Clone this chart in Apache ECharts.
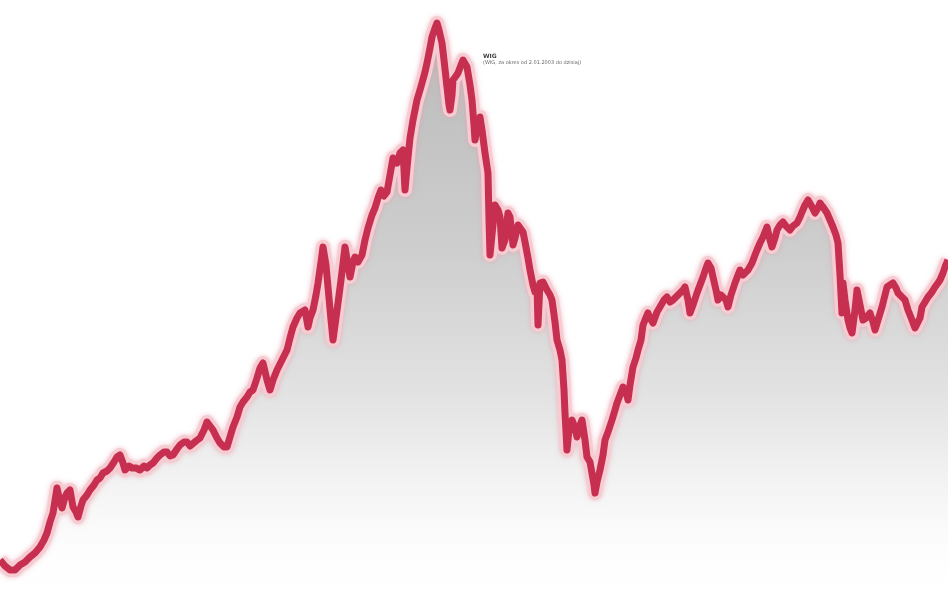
<!DOCTYPE html>
<html>
<head>
<meta charset="utf-8">
<script src="https://cdn.jsdelivr.net/npm/echarts@6/dist/echarts.min.js"></script>
<style>
html,body{margin:0;padding:0;background:#ffffff;}
#chart{width:948px;height:593px;}
</style>
</head>
<body>
<div id="chart"></div>
<script>
// Decimal years (x) and WIG index level in thousands of points (y)
var years = [
2003.15,2003.20,2003.25,2003.30,2003.35,2003.40,2003.45,2003.50,2003.55,2003.59,2003.62,2003.65,2003.68,2003.72,2003.75,2003.77,2003.80,2003.82,2003.85,2003.88,2003.91,2003.93,2003.96,2003.98,
2004.02,2004.05,2004.09,2004.12,2004.15,2004.18,2004.22,2004.25,2004.29,2004.32,2004.35,2004.38,2004.40,2004.44,2004.47,2004.51,2004.55,2004.59,2004.62,2004.65,2004.68,2004.72,2004.75,2004.79,2004.82,2004.85,2004.88,2004.92,2004.95,2004.99,
2005.02,2005.05,2005.07,2005.11,2005.15,2005.19,2005.22,2005.25,2005.28,2005.32,2005.35,2005.39,2005.42,2005.45,2005.48,2005.52,2005.55,2005.58,2005.62,2005.65,2005.68,2005.72,2005.75,2005.78,2005.82,2005.85,2005.88,2005.92,2005.97,
2006.02,2006.05,2006.08,2006.12,2006.15,2006.20,2006.23,2006.25,2006.28,2006.31,2006.33,2006.36,2006.38,2006.41,2006.43,2006.46,2006.48,2006.51,2006.53,2006.56,2006.60,2006.63,2006.65,2006.68,2006.70,2006.73,2006.77,2006.80,2006.83,2006.87,2006.90,2006.93,2006.96,2006.99,
2007.02,2007.05,2007.08,2007.12,2007.15,2007.18,2007.20,2007.22,2007.25,2007.28,2007.32,2007.35,2007.37,2007.40,2007.42,2007.45,2007.47,2007.50,2007.52,2007.54,2007.57,2007.59,2007.62,2007.64,2007.65,2007.67,2007.68,2007.71,2007.73,2007.76,2007.78,2007.80,2007.82,2007.85,2007.87,2007.89,2007.90,2007.92,2007.95,2007.97,
2008.00,2008.03,2008.04,2008.05,2008.08,2008.10,2008.13,2008.15,2008.17,2008.20,2008.23,2008.25,2008.28,2008.30,2008.33,2008.35,2008.38,2008.40,2008.43,2008.45,2008.48,2008.50,2008.52,2008.53,2008.55,2008.58,2008.62,2008.65,2008.67,2008.70,2008.72,2008.75,2008.77,2008.79,2008.80,2008.82,2008.84,2008.87,2008.90,2008.92,2008.95,2008.97,
2009.00,2009.02,2009.05,2009.07,2009.09,2009.10,2009.12,2009.15,2009.18,2009.20,2009.23,2009.27,2009.30,2009.32,2009.35,2009.38,2009.41,2009.43,2009.45,2009.48,2009.51,2009.53,2009.56,2009.58,2009.60,2009.63,2009.65,2009.68,2009.72,2009.75,2009.79,2009.82,2009.85,2009.88,2009.92,2009.95,2009.98,
2010.00,2010.03,2010.05,2010.08,2010.12,2010.15,2010.18,2010.21,2010.23,2010.26,2010.28,2010.31,2010.33,2010.36,2010.38,2010.41,2010.43,2010.46,2010.50,2010.53,2010.55,2010.58,2010.60,2010.63,2010.67,2010.70,2010.72,2010.75,2010.78,2010.80,2010.82,2010.85,2010.87,2010.90,2010.92,2010.95,2010.98,
2011.01,2011.05,2011.08,2011.12,2011.15,2011.17,2011.20,2011.23,2011.26,2011.30,2011.33,2011.35,2011.38,2011.42,2011.45,2011.48,2011.51,2011.53,2011.55,2011.57,2011.58,2011.60,2011.63,2011.65,2011.67,2011.70,2011.72,2011.75,2011.78,2011.81,2011.85,2011.88,2011.90,2011.93,2011.97,
2012.00,2012.02,2012.05,2012.08,2012.11,2012.13,2012.17,2012.20,2012.23,2012.27,2012.30,2012.32,2012.35,2012.37,2012.40,2012.43,2012.47,2012.50,2012.53,2012.55,2012.58,2012.60,2012.63
];
var wig = [
14.0,13.4,13.0,13.0,13.5,13.8,14.3,14.7,15.3,16.0,16.7,17.8,18.7,21.2,19.8,19.2,20.3,20.7,21.0,19.3,18.8,18.3,19.4,20.0,
20.5,21.0,21.5,22.0,22.2,22.7,22.9,23.2,23.8,24.3,24.5,23.7,23.0,23.4,23.2,23.2,23.0,23.4,23.2,23.5,23.7,24.2,24.5,24.8,24.8,24.4,24.5,25.1,25.5,25.8,
25.8,25.4,25.2,25.9,26.2,27.0,27.8,27.4,27.0,26.2,25.7,25.3,25.3,26.3,27.3,28.3,29.3,29.8,30.3,30.8,31.0,32.2,33.2,33.7,32.0,31.0,32.0,33.0,34.0,
35.0,36.2,37.3,38.2,38.7,39.0,37.3,38.2,39.0,40.5,41.7,43.8,45.3,43.5,41.3,38.0,36.0,38.2,39.7,42.0,45.3,43.5,42.3,43.8,44.3,43.8,44.5,46.0,47.2,48.5,49.2,50.2,51.0,50.4,
50.8,52.5,54.2,53.7,54.7,55.0,51.0,53.2,56.2,58.0,60.0,61.0,61.7,62.8,63.7,65.2,66.3,67.2,67.7,67.0,65.7,64.0,61.3,59.5,59.0,60.5,62.0,62.4,62.7,63.5,64.0,63.8,63.3,61.5,60.0,57.5,56.0,57.2,58.3,57.0,
54.7,52.7,48.0,44.5,47.5,49.5,49.0,48.3,45.2,46.0,48.7,48.3,45.5,46.2,47.5,47.7,46.8,45.8,44.2,43.0,41.5,40.8,41.3,37.5,41.7,41.8,41.0,40.5,40.0,37.8,36.0,35.0,34.0,31.0,28.7,25.0,27.0,28.0,27.2,26.3,27.5,28.0,
26.0,24.3,23.8,23.7,21.5,20.7,21.8,23.0,24.5,26.0,26.8,28.0,29.0,29.7,30.5,31.3,30.8,30.0,31.5,33.3,34.2,35.0,36.0,37.5,38.0,38.7,38.2,37.7,38.8,39.3,40.0,40.3,39.8,40.0,40.4,40.7,41.0,
41.3,40.0,38.7,39.5,40.7,41.5,42.3,43.2,43.7,43.2,42.3,41.0,40.0,40.5,40.7,40.0,39.3,40.5,41.7,42.5,43.0,42.5,42.3,43.0,43.7,44.5,45.0,45.7,46.3,46.8,47.3,46.0,45.3,46.2,47.0,47.5,47.8,
47.4,47.0,47.4,47.7,48.3,48.8,49.5,50.0,49.5,48.7,49.2,49.7,49.3,48.7,48.0,47.3,46.5,45.7,42.5,38.7,41.7,40.0,38.0,37.2,36.7,39.0,41.0,39.5,38.0,38.2,38.7,37.8,37.0,38.0,39.3,
40.5,41.3,41.5,41.7,41.2,40.7,40.3,40.0,39.0,38.0,37.2,37.0,38.2,39.3,39.8,40.3,40.8,41.3,41.7,42.0,42.7,43.3,44.0
];
var titleText = 'WIG';
var subText = '(WIG, za okres od 2.01.2003 do dzisiaj)';

var pts = years.map(function (y, i) { return [y, wig[i]]; });

var chart = echarts.init(document.getElementById('chart'), null, {renderer: 'canvas'});
chart.setOption({
  animation: false,
  backgroundColor: '#ffffff',
  title: {
    text: titleText,
    subtext: subText,
    left: 483, top: 53, itemGap: 1, padding: 0,
    textStyle: {fontSize: 6, fontWeight: 'bold', color: '#444', fontFamily: 'DejaVu Sans'},
    subtextStyle: {fontSize: 5, color: '#666', fontFamily: 'DejaVu Sans'}
  },
  grid: {left: 0, right: 0, top: 0, bottom: 0},
  xAxis: {type: 'value', min: 2003.15, max: 2012.63, show: false, splitLine: {show: false}},
  yAxis: {type: 'value', min: 10.7, max: 70, show: false, splitLine: {show: false}},
  series: [
    {
      type: 'line', data: pts, symbol: 'none', z: 1,
      lineStyle: {width: 14, color: '#f6cbd1', shadowColor: 'rgba(235,150,165,0.6)', shadowBlur: 5, join: 'round'},
      areaStyle: {
        color: new echarts.graphic.LinearGradient(0, 0, 0, 1, [
          {offset: 0, color: '#9c9c9c'},
          {offset: 0.4, color: '#b9b9b9'},
          {offset: 0.65, color: '#d6d6d6'},
          {offset: 0.82, color: '#f0f0f0'},
          {offset: 0.92, color: '#fcfcfc'},
          {offset: 1, color: '#ffffff'}
        ])
      }
    },
    {
      type: 'line', data: pts, symbol: 'none', z: 2,
      lineStyle: {width: 7, color: '#c62f4f', join: 'round'}
    }
  ]
});
</script>
</body>
</html>
